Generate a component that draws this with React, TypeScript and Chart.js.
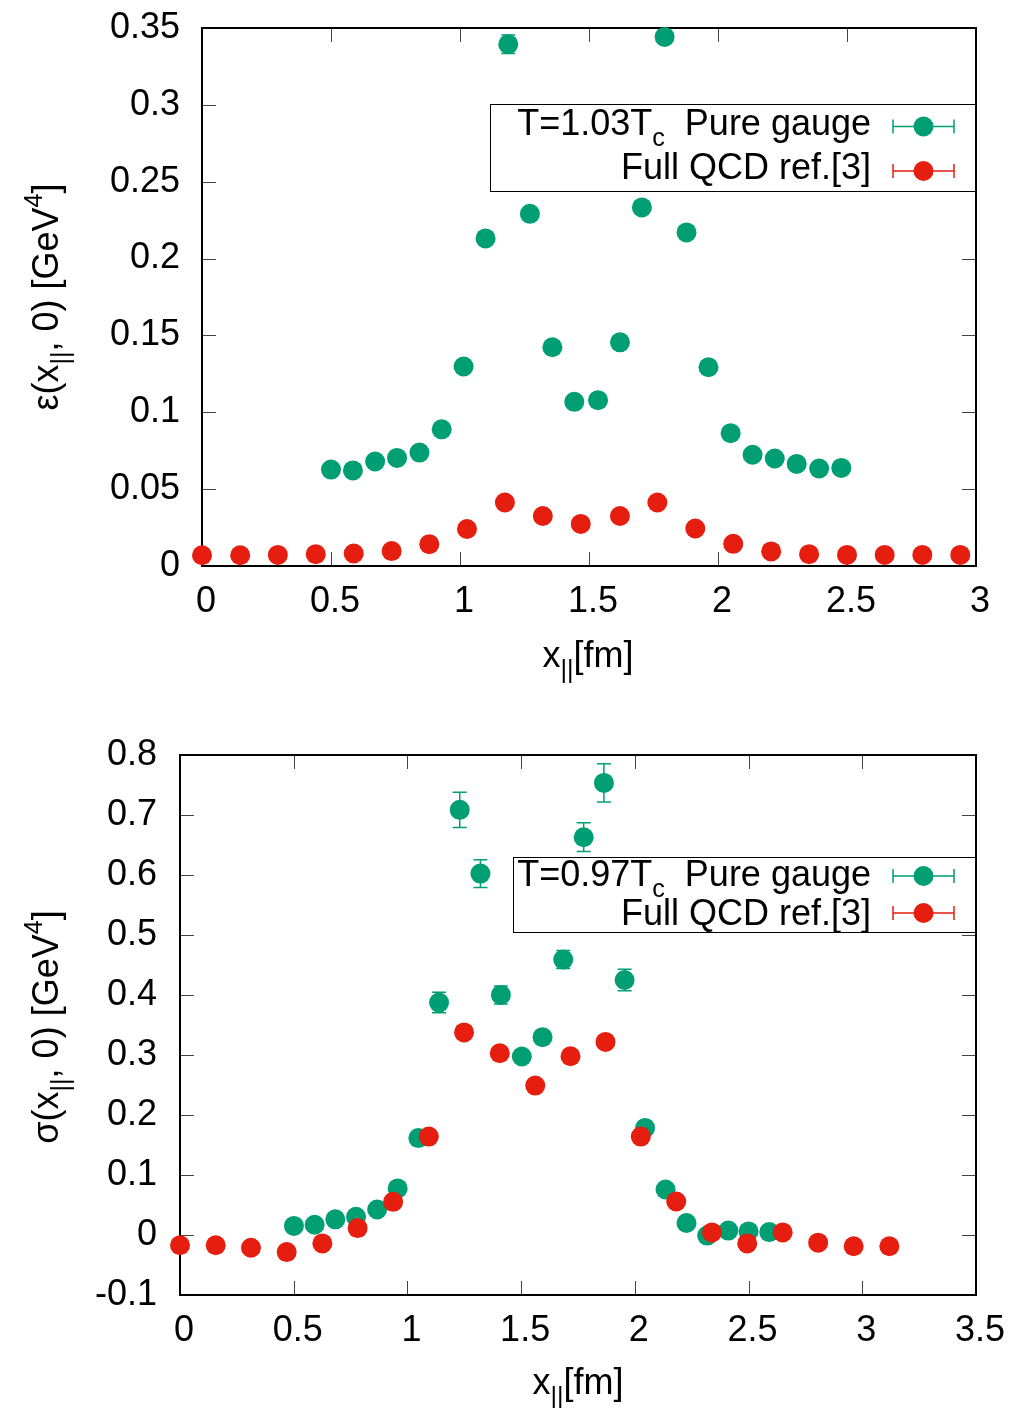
import React, { useEffect, useRef } from "react";
import { Chart, registerables } from "chart.js";

Chart.register(...registerables);

const GREEN = "#009e73";
const RED = "#e51e10";
const FONT_FAMILY = "'Liberation Sans', Arial, Helvetica, sans-serif";
const FONT_SIZE = 36;

// ---------- Panel 1: energy density, T = 1.03 Tc ----------
const eXTicks = [0, 0.5, 1, 1.5, 2, 2.5, 3];
const eXTickLabels = ["0", "0.5", "1", "1.5", "2", "2.5", "3"];
const eYTicks = [0, 0.05, 0.1, 0.15, 0.2, 0.25, 0.3, 0.35];
const eYTickLabels = ["0", "0.05", "0.1", "0.15", "0.2", "0.25", "0.3", "0.35"];

const ePureX = [0.5, 0.585, 0.671, 0.756, 0.843, 0.929, 1.014, 1.099, 1.187, 1.271, 1.358, 1.443, 1.535, 1.62, 1.705, 1.793, 1.878, 1.963, 2.049, 2.134, 2.22, 2.305, 2.392, 2.478];
const ePureY = [0.0627, 0.0622, 0.068, 0.0703, 0.0738, 0.0889, 0.1298, 0.2131, 0.3394, 0.2291, 0.1423, 0.1068, 0.1079, 0.1455, 0.2333, 0.3442, 0.217, 0.1293, 0.0864, 0.0724, 0.0699, 0.0664, 0.0634, 0.0638];
const ePureErr = [0, 0, 0, 0, 0, 0, 0, 0, 0.006, 0, 0, 0, 0, 0, 0, 0, 0, 0, 0, 0, 0, 0, 0, 0];

const eQcdX = [0, 0.148, 0.294, 0.441, 0.588, 0.735, 0.881, 1.027, 1.174, 1.321, 1.468, 1.62, 1.765, 1.912, 2.059, 2.206, 2.353, 2.5, 2.646, 2.792, 2.939];
const eQcdY = [0.007, 0.007, 0.0072, 0.0077, 0.0081, 0.0097, 0.0142, 0.0241, 0.0413, 0.0325, 0.0274, 0.0325, 0.0413, 0.0244, 0.0144, 0.0095, 0.0077, 0.0072, 0.0072, 0.0072, 0.0072];

// ---------- Panel 2: stress, T = 0.97 Tc ----------
const sXTicks = [0, 0.5, 1, 1.5, 2, 2.5, 3, 3.5];
const sXTickLabels = ["0", "0.5", "1", "1.5", "2", "2.5", "3", "3.5"];
const sYTicks = [-0.1, 0, 0.1, 0.2, 0.3, 0.4, 0.5, 0.6, 0.7, 0.8];
const sYTickLabels = ["-0.1", "0", "0.1", "0.2", "0.3", "0.4", "0.5", "0.6", "0.7", "0.8"];

const sPureX = [0.501, 0.592, 0.683, 0.774, 0.867, 0.957, 1.048, 1.139, 1.23, 1.321, 1.411, 1.503, 1.594, 1.685, 1.775, 1.864, 1.955, 2.045, 2.135, 2.227, 2.318, 2.411, 2.5, 2.591];
const sPureY = [0.0152, 0.017, 0.0261, 0.0304, 0.0425, 0.0777, 0.1615, 0.3874, 0.7086, 0.6023, 0.4001, 0.2975, 0.3297, 0.459, 0.663, 0.7535, 0.425, 0.1785, 0.0759, 0.02, -0.001, 0.0073, 0.006, 0.0049];
const sPureErr = [0, 0, 0, 0, 0, 0, 0, 0.017, 0.0295, 0.023, 0.015, 0, 0, 0.015, 0.024, 0.032, 0.018, 0, 0, 0, 0, 0, 0, 0];

const sQcdX = [0, 0.157, 0.312, 0.469, 0.626, 0.781, 0.937, 1.094, 1.249, 1.406, 1.562, 1.717, 1.871, 2.026, 2.182, 2.339, 2.494, 2.65, 2.806, 2.962, 3.119];
const sQcdY = [-0.017, -0.017, -0.0213, -0.0285, -0.014, 0.0115, 0.0553, 0.164, 0.3376, 0.303, 0.249, 0.298, 0.3218, 0.164, 0.0559, 0.0043, -0.014, 0.0043, -0.0128, -0.0188, -0.0188];

const legendPure1 = "T=1.03T";
const legendPure2 = "T=0.97T";
const legendQcd = "Full QCD ref.[3]";

type Seg = { t: string; k?: "sub" | "sup" };

function fnt(size: number) {
  return `${size}px ${FONT_FAMILY}`;
}

function richWidth(ctx: CanvasRenderingContext2D, segs: Seg[], size: number) {
  let w = 0;
  for (const s of segs) {
    ctx.font = fnt(s.k ? size * 0.7 : size);
    w += ctx.measureText(s.t).width;
  }
  return w;
}

function drawRich(ctx: CanvasRenderingContext2D, segs: Seg[], x: number, y: number, size: number, align: "left" | "center" | "right") {
  const w = richWidth(ctx, segs, size);
  let cx = align === "left" ? x : align === "right" ? x - w : x - w / 2;
  ctx.textAlign = "left";
  ctx.textBaseline = "alphabetic";
  ctx.fillStyle = "#000";
  for (const s of segs) {
    const sz = s.k ? size * 0.7 : size;
    ctx.font = fnt(sz);
    const dy = s.k === "sub" ? size * 0.3 : s.k === "sup" ? -size * 0.45 : 0;
    ctx.fillText(s.t, cx, y + dy);
    cx += ctx.measureText(s.t).width;
  }
}

type PanelCfg = {
  height: number;
  area: { left: number; right: number; top: number; bottom: number };
  xMin: number; xMax: number; yMin: number; yMax: number;
  xTicks: number[]; xLabels: string[]; yTicks: number[]; yLabels: string[];
  pureX: number[]; pureY: number[]; pureErr: number[];
  qcdX: number[]; qcdY: number[];
  pureLabel: string;
  legendBox: { x1: number; y1: number; x2: number; y2: number };
  legendRows: number[];
  legendBase: number[];
  yTitle: Seg[];
  yTitlePos: { x: number; y: number };
  xTitlePos: { x: number; y: number };
  yPad: number;
};

function makeChart(canvas: HTMLCanvasElement, cfg: PanelCfg) {
  const toPts = (xs: number[], ys: number[]) => xs.map((x, i) => ({ x, y: ys[i] }));

  const framePlugin = {
    id: "frameTicks",
    beforeDatasetsDraw(chart: any) {
      const { ctx, chartArea: a, scales } = chart;
      const xs = scales.x, ys = scales.y;
      ctx.save();
      ctx.strokeStyle = "#444";
      ctx.lineWidth = 1;
      const L = 14;
      ctx.beginPath();
      for (const v of cfg.xTicks) {
        const p = Math.round(xs.getPixelForValue(v)) + 0.5;
        ctx.moveTo(p, a.bottom); ctx.lineTo(p, a.bottom - L);
        ctx.moveTo(p, a.top); ctx.lineTo(p, a.top + L);
      }
      for (const v of cfg.yTicks) {
        const p = Math.round(ys.getPixelForValue(v)) + 0.5;
        ctx.moveTo(a.left, p); ctx.lineTo(a.left + L, p);
        ctx.moveTo(a.right, p); ctx.lineTo(a.right - L, p);
      }
      ctx.stroke();
      ctx.strokeStyle = "#000";
      ctx.lineWidth = 2;
      ctx.strokeRect(a.left, a.top, a.right - a.left, a.bottom - a.top);
      // error bars
      chart.data.datasets.forEach((ds: any) => {
        const errs: number[] | undefined = ds.errors;
        if (!errs) return;
        ctx.strokeStyle = ds.backgroundColor;
        ctx.lineWidth = 1.5;
        ds.data.forEach((pt: any, i: number) => {
          const e = errs[i];
          if (!e) return;
          const px = xs.getPixelForValue(pt.x);
          const y1 = ys.getPixelForValue(pt.y - e);
          const y2 = ys.getPixelForValue(pt.y + e);
          ctx.beginPath();
          ctx.moveTo(px, y1); ctx.lineTo(px, y2);
          ctx.moveTo(px - 7, y1); ctx.lineTo(px + 7, y1);
          ctx.moveTo(px - 7, y2); ctx.lineTo(px + 7, y2);
          ctx.stroke();
        });
      });
      ctx.restore();
    },
    afterDatasetsDraw(chart: any) {
      const { ctx } = chart;
      const b = cfg.legendBox;
      ctx.save();
      ctx.fillStyle = "#fff";
      ctx.fillRect(b.x1, b.y1, b.x2 - b.x1, b.y2 - b.y1);
      ctx.strokeStyle = "#000";
      ctx.lineWidth = 1;
      ctx.strokeRect(b.x1 + 0.5, b.y1 + 0.5, b.x2 - b.x1 - 1, b.y2 - b.y1);
      ctx.lineWidth = 2;
      ctx.beginPath();
      ctx.moveTo(chart.chartArea.right, b.y1);
      ctx.lineTo(chart.chartArea.right, b.y2 + 1);
      ctx.stroke();
      const rows: { segs: Seg[]; color: string }[] = [
        { segs: [{ t: cfg.pureLabel }, { t: "c", k: "sub" }, { t: "  Pure gauge" }], color: GREEN },
        { segs: [{ t: legendQcd }], color: RED },
      ];
      rows.forEach((r, i) => {
        drawRich(ctx, r.segs, 871, cfg.legendBase[i], FONT_SIZE, "right");
        const yc = cfg.legendRows[i];
        ctx.strokeStyle = r.color;
        ctx.lineWidth = 1.5;
        ctx.beginPath();
        ctx.moveTo(893, yc); ctx.lineTo(954, yc);
        ctx.moveTo(893, yc - 7); ctx.lineTo(893, yc + 7);
        ctx.moveTo(954, yc - 7); ctx.lineTo(954, yc + 7);
        ctx.stroke();
        ctx.fillStyle = r.color;
        ctx.beginPath();
        ctx.arc(923.5, yc, 10, 0, Math.PI * 2);
        ctx.fill();
      });
      ctx.restore();
    },
    afterDraw(chart: any) {
      const { ctx } = chart;
      ctx.save();
      ctx.translate(cfg.yTitlePos.x, cfg.yTitlePos.y);
      ctx.rotate(-Math.PI / 2);
      drawRich(ctx, cfg.yTitle, 0, 0, FONT_SIZE, "center");
      ctx.restore();
      ctx.save();
      drawRich(ctx, [{ t: "x" }, { t: "||", k: "sub" }, { t: "[fm]" }], cfg.xTitlePos.x, cfg.xTitlePos.y, FONT_SIZE, "center");
      ctx.restore();
    },
  };

  const tickFont = { family: FONT_FAMILY, size: FONT_SIZE };

  return new Chart(canvas, {
    type: "scatter",
    data: {
      datasets: [
        {
          label: "Pure gauge",
          data: toPts(cfg.pureX, cfg.pureY),
          backgroundColor: GREEN,
          borderColor: GREEN,
          pointRadius: 10,
          pointBorderWidth: 0,
          showLine: false,
          clip: false,
          order: 1,
          errors: cfg.pureErr,
        } as any,
        {
          label: "Full QCD ref.[3]",
          data: toPts(cfg.qcdX, cfg.qcdY),
          backgroundColor: RED,
          borderColor: RED,
          pointRadius: 10,
          pointBorderWidth: 0,
          showLine: false,
          clip: false,
          order: 0,
        } as any,
      ],
    },
    options: {
      responsive: false,
      maintainAspectRatio: false,
      animation: false,
      events: [],
      layout: {
        padding: { left: 0, right: 1009 - cfg.area.right, top: cfg.area.top, bottom: 0 },
      },
      plugins: { legend: { display: false }, tooltip: { enabled: false } },
      scales: {
        x: {
          type: "linear",
          min: cfg.xMin,
          max: cfg.xMax,
          afterBuildTicks: (s: any) => {
            s.ticks = cfg.xTicks.map((v) => ({ value: v }));
          },
          afterFit: (s: any) => {
            s.height = cfg.height - cfg.area.bottom;
            s.paddingLeft = 0;
            s.paddingRight = 0;
            s.paddingTop = 0;
            s.paddingBottom = 0;
          },
          ticks: {
            callback: (_v: any, i: number) => cfg.xLabels[i],
            font: tickFont,
            color: "#000",
            padding: 14,
            labelOffset: 4,
            maxRotation: 0,
            autoSkip: false,
          },
          grid: { display: false, drawTicks: false },
          border: { display: false },
        },
        y: {
          type: "linear",
          min: cfg.yMin,
          max: cfg.yMax,
          afterBuildTicks: (s: any) => {
            s.ticks = cfg.yTicks.map((v) => ({ value: v }));
          },
          afterFit: (s: any) => {
            s.width = cfg.area.left;
            s.paddingLeft = 0;
            s.paddingRight = 0;
            s.paddingTop = 0;
            s.paddingBottom = 0;
          },
          ticks: {
            callback: (_v: any, i: number) => cfg.yLabels[i],
            font: tickFont,
            color: "#000",
            padding: cfg.yPad,
            autoSkip: false,
          },
          grid: { display: false, drawTicks: false },
          border: { display: false },
        },
      },
    },
    plugins: [framePlugin],
  } as any);
}

const panel1: PanelCfg = {
  height: 700,
  area: { left: 202, right: 976, top: 28, bottom: 566 },
  xMin: 0, xMax: 3, yMin: 0, yMax: 0.35,
  xTicks: eXTicks, xLabels: eXTickLabels, yTicks: eYTicks, yLabels: eYTickLabels,
  pureX: ePureX, pureY: ePureY, pureErr: ePureErr,
  qcdX: eQcdX, qcdY: eQcdY,
  pureLabel: legendPure1,
  legendBox: { x1: 490, y1: 104, x2: 976, y2: 191 },
  legendRows: [126.5, 171],
  legendBase: [135, 179],
  yTitle: [{ t: "ε(x" }, { t: "||", k: "sub" }, { t: ", 0) [GeV" }, { t: "4", k: "sup" }, { t: "]" }],
  yTitlePos: { x: 58, y: 297 },
  xTitlePos: { x: 588, y: 667 },
  yPad: 22,
};

const panel2: PanelCfg = {
  height: 708,
  area: { left: 180, right: 976, top: 55, bottom: 595 },
  xMin: 0, xMax: 3.5, yMin: -0.1, yMax: 0.8,
  xTicks: sXTicks, xLabels: sXTickLabels, yTicks: sYTicks, yLabels: sYTickLabels,
  pureX: sPureX, pureY: sPureY, pureErr: sPureErr,
  qcdX: sQcdX, qcdY: sQcdY,
  pureLabel: legendPure2,
  legendBox: { x1: 513, y1: 157, x2: 976, y2: 232 },
  legendRows: [176, 213],
  legendBase: [186, 225],
  yTitle: [{ t: "σ(x" }, { t: "||", k: "sub" }, { t: ", 0) [GeV" }, { t: "4", k: "sup" }, { t: "]" }],
  yTitlePos: { x: 58, y: 327 },
  xTitlePos: { x: 578, y: 694 },
  yPad: 23,
};

function Panel({ cfg, top }: { cfg: PanelCfg; top: number }) {
  const ref = useRef<HTMLCanvasElement>(null);
  useEffect(() => {
    if (!ref.current) return;
    const chart = makeChart(ref.current, cfg);
    return () => chart.destroy();
  }, [cfg]);
  return (
    <canvas
      ref={ref}
      width={1009}
      height={cfg.height}
      style={{ position: "absolute", left: 0, top, width: 1009, height: cfg.height, display: "block" }}
    />
  );
}

export default function App() {
  return (
    <div style={{ position: "absolute", left: 0, top: 0, width: 1009, height: 1408, background: "#fff" }}>
      <Panel cfg={panel1} top={0} />
      <Panel cfg={panel2} top={700} />
    </div>
  );
}
